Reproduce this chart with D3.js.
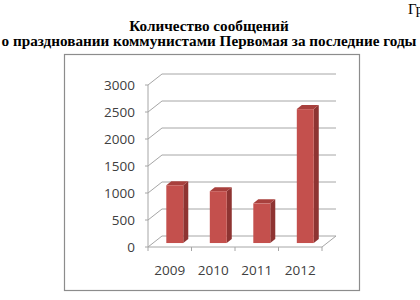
<!DOCTYPE html>
<html>
<head>
<meta charset="utf-8">
<script src="https://cdn.jsdelivr.net/npm/d3@7"></script>
<style>
  body { margin: 0; background: #fff; }
</style>
</head>
<body>
<div id="canvas"></div>
<script>
"use strict"

// DATA
let years = ["2009", "2010", "2011", "2012"];
let counts = [1070, 960, 735, 2480];
let yTicks = [0, 500, 1000, 1500, 2000, 2500, 3000];
let titleLines = ["Количество сообщений", "о праздновании коммунистами Первомая за последние годы"];

/* drawing config */
let svgWidth = 420;
let svgHeight = 300;

let plotLeft = 148;
let plotRight = 322;
let plotBottom = 247;
let plotTop = 85;

// oblique depth of the 3d box
let depthX = 14;
let depthY = -11;

let svg = d3.select("#canvas")
  .append("svg")
  .attr("width", svgWidth)
  .attr("height", svgHeight);

// corner text, cut by the page edge
svg.append("text")
  .attr("x", 408)
  .attr("y", 14)
  .style("font-family", "'Liberation Serif', serif")
  .style("font-size", "15px")
  .text("Гр");

// title
for (let i = 0; i < titleLines.length; i++) {
  svg.append("text")
    .attr("x", 209)
    .attr("y", 31 + i * 15)
    .attr("text-anchor", "middle")
    .style("font-family", "'Liberation Serif', serif")
    .style("font-weight", "bold")
    .style("font-size", "15.2px")
    .text(titleLines[i]);
}

// chart frame
svg.append("rect")
  .attr("x", 64.5)
  .attr("y", 54.5)
  .attr("width", 295)
  .attr("height", 236)
  .attr("fill", "none")
  .attr("stroke", "#8c8c8c")
  .attr("stroke-width", 1.2);

// scales
let xScale = d3.scaleBand()
  .domain(years)
  .range([plotLeft, plotRight]);

let yScale = d3.scaleLinear()
  .domain([0, 3000])
  .range([plotBottom, plotTop]);

let gridColor = "#a6a6a6";

// gridlines: left wall diagonal + back wall
for (let i = 0; i < yTicks.length; i++) {
  let yy = yScale(yTicks[i]);
  svg.append("line")
    .attr("x1", plotLeft).attr("y1", yy)
    .attr("x2", plotLeft + depthX).attr("y2", yy + depthY)
    .attr("stroke", gridColor);
  svg.append("line")
    .attr("x1", plotLeft + depthX).attr("y1", yy + depthY)
    .attr("x2", plotRight + depthX).attr("y2", yy + depthY)
    .attr("stroke", gridColor);
  // tick to the left
  svg.append("line")
    .attr("x1", plotLeft - 3).attr("y1", yy)
    .attr("x2", plotLeft).attr("y2", yy)
    .attr("stroke", gridColor);
  // label
  svg.append("text")
    .attr("x", 135)
    .attr("y", yy)
    .attr("text-anchor", "end")
    .attr("dominant-baseline", "central")
    .style("font-family", "'Open Sans', sans-serif")
    .style("font-size", "13.5px")
    .style("fill", "#404040")
    .text(yTicks[i]);
}

// floor right edge
svg.append("line")
  .attr("x1", plotRight).attr("y1", plotBottom)
  .attr("x2", plotRight + depthX).attr("y2", plotBottom + depthY)
  .attr("stroke", gridColor);

// axes
svg.append("line")
  .attr("x1", plotLeft).attr("y1", plotTop)
  .attr("x2", plotLeft).attr("y2", plotBottom)
  .attr("stroke", gridColor);
svg.append("line")
  .attr("x1", plotLeft).attr("y1", plotBottom)
  .attr("x2", plotRight).attr("y2", plotBottom)
  .attr("stroke", gridColor);

// x ticks at category boundaries
let bounds = years.map(d => xScale(d)).concat([plotRight]);
for (let i = 0; i < bounds.length; i++) {
  svg.append("line")
    .attr("x1", bounds[i]).attr("y1", plotBottom)
    .attr("x2", bounds[i]).attr("y2", plotBottom + 4)
    .attr("stroke", gridColor);
}

// x labels
for (let i = 0; i < years.length; i++) {
  svg.append("text")
    .attr("x", xScale(years[i]) + xScale.bandwidth() / 2)
    .attr("y", 275)
    .attr("text-anchor", "middle")
    .style("font-family", "'Open Sans', sans-serif")
    .style("font-size", "13.5px")
    .style("fill", "#404040")
    .text(years[i]);
}

// 3d bars
let barFrac = 0.39;       // front face width as share of band
let frontShift = 0.36;    // how far back the front face sits
let barDX = 5;
let barDY = -4;

let bars = svg.selectAll("g.bar")
  .data(years.map((d, i) => ({ year: d, value: counts[i] })))
  .join("g")
  .attr("class", "bar");

function barGeom(d) {
  let w = xScale.bandwidth() * barFrac;
  let x0 = xScale(d.year) + xScale.bandwidth() / 2 - w / 2 + depthX * frontShift;
  let base = plotBottom + depthY * frontShift;
  let top = base - (yScale(0) - yScale(d.value));
  return { x0: x0, x1: x0 + w, base: base, top: top };
}

function pts(list) {
  return list.map(p => p.join(",")).join(" ");
}

bars.append("polygon")
  .attr("points", function (d) {
    let g = barGeom(d);
    return pts([[g.x1, g.top], [g.x1 + barDX, g.top + barDY], [g.x1 + barDX, g.base + barDY], [g.x1, g.base]]);
  })
  .attr("fill", "#8e3432");

bars.append("polygon")
  .attr("points", function (d) {
    let g = barGeom(d);
    return pts([[g.x0, g.top], [g.x0 + barDX, g.top + barDY], [g.x1 + barDX, g.top + barDY], [g.x1, g.top]]);
  })
  .attr("fill", "#a8403d");

bars.append("rect")
  .attr("x", d => barGeom(d).x0)
  .attr("y", d => barGeom(d).top)
  .attr("width", d => barGeom(d).x1 - barGeom(d).x0)
  .attr("height", d => barGeom(d).base - barGeom(d).top)
  .attr("fill", "#c4504d");
</script>
</body>
</html>
